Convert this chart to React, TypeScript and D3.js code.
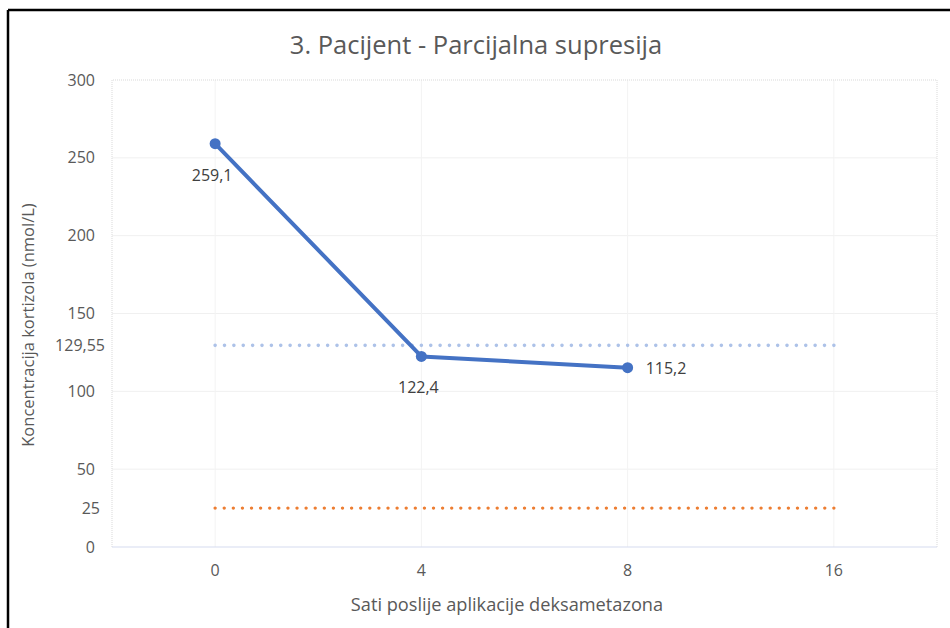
import React from "react";
import * as d3 from "d3";

const title = "3. Pacijent - Parcijalna supresija";
const xTitle = "Sati poslije aplikacije deksametazona";
const yTitle = "Koncentracija kortizola (nmol/L)";

const categories = ["0", "4", "8", "16"];
const seriesX = ["0", "4", "8"];
const seriesValues = [259.1, 122.4, 115.2];
const seriesLabels = ["259,1", "122,4", "115,2"];
const labelPlacement = ["below", "below", "right"];

const refUpper = 129.55;
const refLower = 25;

const yTickValues = [0, 25, 50, 100, 129.55, 150, 200, 250, 300];
const yTickLabels = ["0", "25", "50", "100", "129,55", "150", "200", "250", "300"];
const yGridValues = [50, 100, 150, 200, 250];

const W = 950;
const H = 628;
const plot = { left: 112, right: 937, top: 80, bottom: 547 };
const FONT = "'Open Sans', sans-serif";
const TEXT = "#595959";

export default function App() {
  const x = d3.scalePoint<string>().domain(categories).range([plot.left, plot.right]).padding(0.5);
  const y = d3.scaleLinear().domain([0, 300]).range([plot.bottom, plot.top]);

  const line = d3
    .line<number>()
    .x((_, i) => x(seriesX[i]) as number)
    .y((d) => y(d));

  const tickDx = (lab: string) => (lab === "129,55" ? 10 : lab === "25" ? 5 : 0);
  const refX1 = x(categories[0]) as number;
  const refX2 = x(categories[categories.length - 1]) as number;
  const refLen = refX2 - refX1;

  return (
    <svg width={W} height={H} style={{ position: "absolute", left: 0, top: 0, background: "#fff" }}>
      <rect x={0} y={0} width={W} height={H} fill="#fff" />
      {/* outer frame */}
      <line x1={8} y1={10} x2={W} y2={10} stroke="#000" strokeWidth={2.5} />
      <line x1={8} y1={10} x2={8} y2={H} stroke="#000" strokeWidth={2.5} />

      {/* grid */}
      {yGridValues.map((v) => (
        <line key={"gy" + v} x1={plot.left} x2={plot.right} y1={y(v)} y2={y(v)} stroke="#f0f0f0" strokeWidth={1} />
      ))}
      {categories.map((c) => (
        <line key={"gx" + c} x1={x(c)} x2={x(c)} y1={plot.top} y2={plot.bottom} stroke="#f3f3f3" strokeWidth={1} />
      ))}
      {/* plot border */}
      <path
        d={`M${plot.left},${plot.bottom}V${plot.top}H${plot.right}V${plot.bottom}`}
        fill="none"
        stroke="#d9d9d9"
        strokeWidth={1}
        strokeDasharray="1 1"
      />
      <line x1={plot.left} x2={plot.right} y1={plot.bottom} y2={plot.bottom} stroke="#d6dcef" strokeWidth={1.2} />

      {/* reference lines */}
      <line
        x1={refX1}
        x2={refX2 + 0.5}
        y1={y(refUpper)}
        y2={y(refUpper)}
        stroke="#adc2e8"
        strokeWidth={3.6}
        strokeLinecap="round"
        strokeDasharray={`0 ${refLen / 66}`}
      />
      <line
        x1={refX1}
        x2={refX2 + 0.5}
        y1={y(refLower)}
        y2={y(refLower)}
        stroke="#ed7d31"
        strokeWidth={3.4}
        strokeLinecap="round"
        strokeDasharray={`0 ${refLen / 68}`}
      />

      {/* series */}
      <path d={line(seriesValues) || ""} fill="none" stroke="#4472c4" strokeWidth={4} strokeLinejoin="round" />
      {seriesValues.map((v, i) => (
        <circle key={"pt" + i} cx={x(seriesX[i])} cy={y(v)} r={5.5} fill="#4472c4" />
      ))}
      {seriesValues.map((v, i) => {
        const px = x(seriesX[i]) as number;
        const py = y(v);
        const below = labelPlacement[i] === "below";
        return (
          <text
            key={"lb" + i}
            x={below ? px - 3 : px + 18}
            y={below ? py + 37 : py + 6}
            textAnchor={below ? "middle" : "start"}
            fontFamily={FONT}
            fontSize={16}
            fill="#404040"
          >
            {seriesLabels[i]}
          </text>
        );
      })}

      {/* y tick labels */}
      {yTickValues.map((v, i) => (
        <text
          key={"yt" + v}
          x={95 + tickDx(yTickLabels[i])}
          y={y(v) + 5.5}
          textAnchor="end"
          fontFamily={FONT}
          fontSize={16}
          fill={TEXT}
        >
          {yTickLabels[i]}
        </text>
      ))}

      {/* x tick labels */}
      {categories.map((c) => (
        <text key={"xt" + c} x={x(c)} y={576} textAnchor="middle" fontFamily={FONT} fontSize={16} fill={TEXT}>
          {c}
        </text>
      ))}

      {/* titles */}
      <text x={476} y={54} textAnchor="middle" fontFamily={FONT} fontSize={25.5} fill={TEXT}>
        {title}
      </text>
      <text x={507} y={611} textAnchor="middle" fontFamily={FONT} fontSize={18.2} fill={TEXT}>
        {xTitle}
      </text>
      <text
        transform={`translate(34,325) rotate(-90)`}
        textAnchor="middle"
        fontFamily={FONT}
        fontSize={16.5}
        fill={TEXT}
      >
        {yTitle}
      </text>
    </svg>
  );
}
